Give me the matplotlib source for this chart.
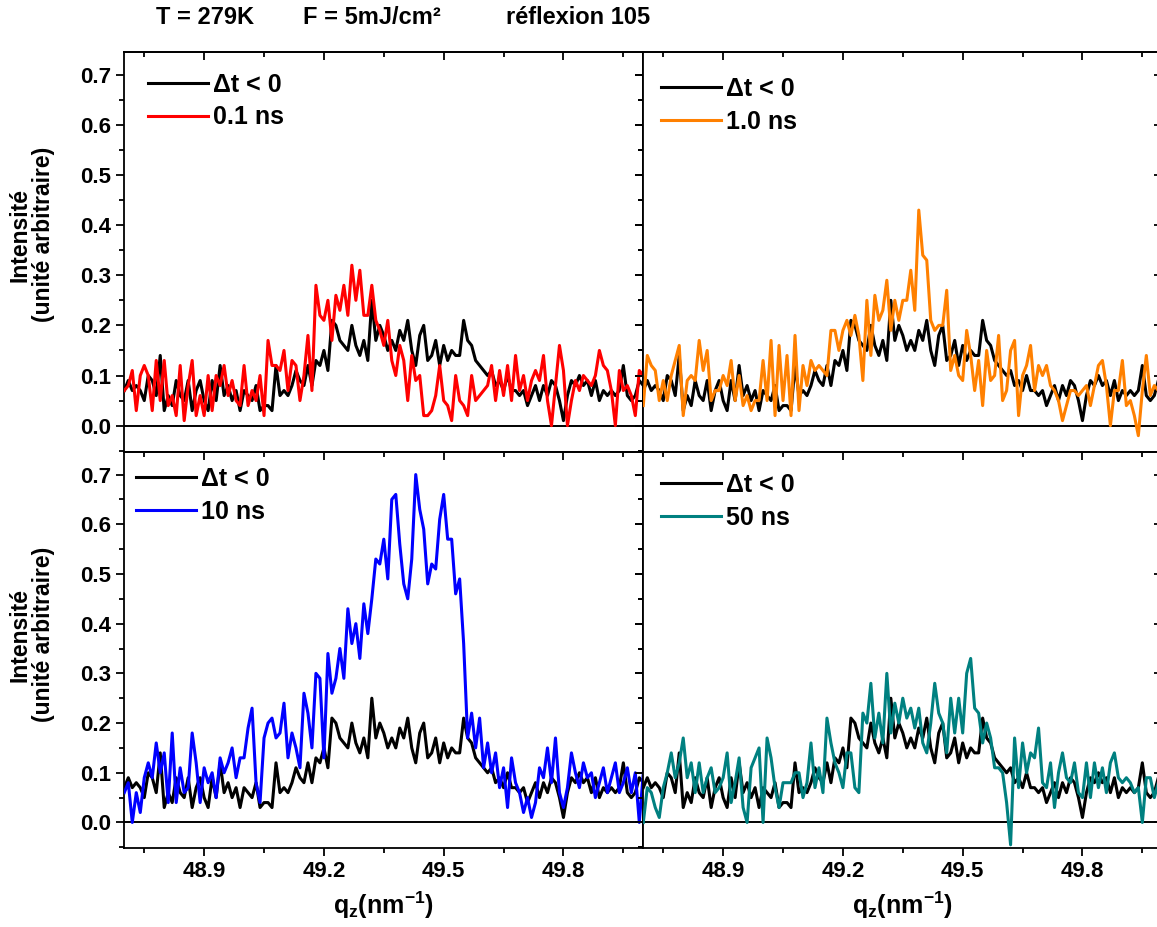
import numpy as np
import matplotlib.pyplot as plt
from matplotlib.ticker import MultipleLocator, FormatStrFormatter

plt.rcParams['font.family'] = ['Liberation Sans', 'DejaVu Sans']
plt.rcParams['font.weight'] = 'bold'
plt.rcParams['mathtext.fontset'] = 'custom'
plt.rcParams['mathtext.rm'] = 'Liberation Sans:bold'
plt.rcParams['mathtext.it'] = 'Liberation Sans:bold'
plt.rcParams['mathtext.bf'] = 'Liberation Sans:bold'
plt.rcParams['mathtext.default'] = 'rm'

# scan positions q_z (nm^-1), step 0.01
q = np.round(np.arange(131) * 0.01 + 48.70, 2)

# reference, delta t < 0 (same curve in all four panels)
i_ref = [0.07, 0.09, 0.07, 0.08, 0.07, 0.05, 0.10, 0.09, 0.06, 0.14,
         0.03, 0.06, 0.04, 0.09, 0.06, 0.05, 0.09, 0.03, 0.07, 0.09,
         0.05, 0.03, 0.09, 0.05, 0.12, 0.06, 0.08, 0.05, 0.07, 0.03,
         0.07, 0.06, 0.05, 0.08, 0.03, 0.04, 0.04, 0.03, 0.12, 0.06,
         0.07, 0.06, 0.08, 0.11, 0.09, 0.08, 0.12, 0.08, 0.13, 0.12,
         0.15, 0.11, 0.21, 0.20, 0.17, 0.16, 0.15, 0.20, 0.16, 0.14,
         0.17, 0.13, 0.25, 0.17, 0.20, 0.18, 0.15, 0.17, 0.15, 0.19,
         0.17, 0.21, 0.15, 0.12, 0.18, 0.20, 0.13, 0.14, 0.17, 0.12,
         0.16, 0.13, 0.15, 0.14, 0.14, 0.21, 0.17, 0.16, 0.13, 0.12,
         0.11, 0.10, 0.11, 0.08, 0.09, 0.07, 0.10, 0.07, 0.07, 0.06,
         0.07, 0.04, 0.06, 0.08, 0.05, 0.08, 0.06, 0.09, 0.08, 0.05,
         0.01, 0.06, 0.09, 0.08, 0.10, 0.08, 0.09, 0.06, 0.09, 0.05,
         0.07, 0.06, 0.07, 0.06, 0.07, 0.12, 0.06, 0.05, 0.06, 0.09, 0.08]

# 0.1 ns
i_01 = [0.07, 0.08, 0.11, 0.03, 0.10, 0.12, 0.10, 0.03, 0.13, 0.05,
        0.13, 0.04, 0.06, 0.02, 0.12, 0.01, 0.08, 0.13, 0.02, 0.06,
        0.02, 0.10, 0.03, 0.10, 0.08, 0.12, 0.06, 0.09, 0.05, 0.04,
        0.12, 0.04, 0.07, 0.05, 0.10, 0.02, 0.17, 0.12, 0.12, 0.11,
        0.15, 0.07, 0.13, 0.12, 0.05, 0.10, 0.18, 0.07, 0.28, 0.22,
        0.21, 0.25, 0.17, 0.26, 0.23, 0.28, 0.22, 0.32, 0.25, 0.31,
        0.22, 0.22, 0.28, 0.21, 0.19, 0.16, 0.21, 0.13, 0.10, 0.16,
        0.13, 0.05, 0.14, 0.09, 0.10, 0.02, 0.02, 0.03, 0.06, 0.12,
        0.05, 0.04, 0.01, 0.10, 0.05, 0.04, 0.02, 0.10, 0.05, 0.06,
        0.07, 0.08, 0.12, 0.05, 0.11, 0.06, 0.12, 0.05, 0.14, 0.07,
        0.10, 0.05, 0.09, 0.11, 0.09, 0.14, 0.05, 0.00, 0.08, 0.16,
        0.11, 0.00, 0.05, 0.09, 0.07, 0.10, 0.09, 0.08, 0.10, 0.15,
        0.12, 0.11, 0.07, 0.00, 0.11, 0.07, 0.08, 0.06, 0.02, 0.11, 0.10]

# 1.0 ns
i_1 = [0.04, 0.14, 0.12, 0.11, 0.05, 0.09, 0.05, 0.10, 0.13, 0.16,
       0.02, 0.09, 0.10, 0.09, 0.17, 0.11, 0.15, 0.05, 0.07, 0.07,
       0.10, 0.08, 0.13, 0.05, 0.10, 0.04, 0.06, 0.03, 0.05, 0.05,
       0.13, 0.05, 0.17, 0.02, 0.16, 0.05, 0.14, 0.02, 0.18, 0.03,
       0.12, 0.08, 0.13, 0.11, 0.12, 0.11, 0.10, 0.19, 0.19, 0.15,
       0.19, 0.21, 0.18, 0.22, 0.18, 0.09, 0.25, 0.14, 0.26, 0.21,
       0.23, 0.29, 0.19, 0.25, 0.21, 0.25, 0.25, 0.31, 0.23, 0.43,
       0.34, 0.33, 0.21, 0.19, 0.20, 0.20, 0.27, 0.11, 0.14, 0.10,
       0.09, 0.19, 0.14, 0.07, 0.13, 0.04, 0.15, 0.09, 0.10, 0.18,
       0.05, 0.07, 0.15, 0.17, 0.02, 0.10, 0.12, 0.16, 0.07, 0.12,
       0.10, 0.12, 0.08, 0.07, 0.05, 0.01, 0.04, 0.07, 0.07, 0.06,
       0.07, 0.08, 0.04, 0.08, 0.12, 0.13, 0.08, 0.00, 0.07, 0.07,
       0.13, 0.04, 0.05, 0.02, -0.02, 0.07, 0.14, 0.06, 0.08, 0.07, 0.08]

# 10 ns
i_10 = [0.06, 0.08, 0.00, 0.06, 0.02, 0.09, 0.12, 0.09, 0.16, 0.10,
        0.14, 0.04, 0.18, 0.04, 0.11, 0.06, 0.07, 0.18, 0.12, 0.04,
        0.11, 0.08, 0.10, 0.05, 0.13, 0.10, 0.12, 0.15, 0.09, 0.13,
        0.13, 0.19, 0.23, 0.08, 0.04, 0.17, 0.20, 0.21, 0.17, 0.18,
        0.24, 0.13, 0.18, 0.15, 0.11, 0.26, 0.22, 0.15, 0.30, 0.29,
        0.13, 0.34, 0.26, 0.29, 0.35, 0.29, 0.43, 0.36, 0.40, 0.33,
        0.44, 0.38, 0.45, 0.53, 0.52, 0.57, 0.49, 0.65, 0.66, 0.56,
        0.48, 0.45, 0.53, 0.70, 0.63, 0.59, 0.48, 0.52, 0.51, 0.61,
        0.66, 0.57, 0.57, 0.46, 0.49, 0.36, 0.17, 0.22, 0.15, 0.21,
        0.11, 0.16, 0.10, 0.14, 0.07, 0.11, 0.03, 0.13, 0.08, 0.06,
        0.02, 0.05, 0.01, 0.04, 0.11, 0.09, 0.15, 0.08, 0.17, 0.06,
        0.03, 0.07, 0.14, 0.10, 0.07, 0.12, 0.09, 0.10, 0.05, 0.08,
        0.11, 0.06, 0.09, 0.12, 0.06, 0.08, 0.11, 0.06, 0.10, 0.00, 0.10]

# 50 ns
i_50 = [0.00, 0.07, 0.06, 0.03, 0.01, 0.07, 0.10, 0.14, 0.09, 0.12,
        0.17, 0.09, 0.12, 0.06, 0.12, 0.06, 0.09, 0.11, 0.06, 0.07,
        0.09, 0.14, 0.04, 0.08, 0.13, 0.03, 0.00, 0.11, 0.13, 0.15,
        0.00, 0.17, 0.13, 0.07, 0.03, 0.08, 0.08, 0.08, 0.10, 0.10,
        0.05, 0.08, 0.16, 0.07, 0.11, 0.06, 0.21, 0.16, 0.12, 0.10,
        0.07, 0.14, 0.14, 0.07, 0.06, 0.22, 0.20, 0.28, 0.17, 0.22,
        0.16, 0.30, 0.18, 0.24, 0.20, 0.25, 0.21, 0.23, 0.19, 0.23,
        0.16, 0.14, 0.20, 0.28, 0.22, 0.20, 0.14, 0.25, 0.18, 0.25,
        0.18, 0.30, 0.33, 0.23, 0.22, 0.16, 0.20, 0.17, 0.11, 0.11,
        0.10, 0.04, -0.045, 0.17, 0.07, 0.16, 0.10, 0.14, 0.13, 0.19,
        0.08, 0.07, 0.12, 0.03, 0.10, 0.14, 0.09, 0.08, 0.12, 0.06,
        0.05, 0.12, 0.05, 0.12, 0.07, 0.11, 0.06, 0.12, 0.14, 0.09,
        0.08, 0.09, 0.08, 0.06, 0.07, 0.00, 0.09, 0.09, 0.05, 0.08, 0.07]

panels = [(i_01, '#ff0000', '0.1 ns'), (i_1, '#ff8000', '1.0 ns'),
          (i_10, '#0000ff', '10 ns'), (i_50, '#008080', '50 ns')]

W, H = 1157.0, 927.0
fig = plt.figure(figsize=(W / 100, H / 100), dpi=100)

lefts = [124.3, 643.3]
rows = [(51.7, 451.7), (451.7, 848.3)]
leg_anchor = [(0.045, 0.948), (0.035, 0.937), (0.022, 0.962), (0.035, 0.946)]

for k, (vals, col, lab) in enumerate(panels):
    r, c = divmod(k, 2)
    top, bot = rows[r]
    ax = fig.add_axes([lefts[c] / W, 1 - bot / H, 519 / W, (bot - top) / H])
    ax.axhline(0, color='k', lw=1.4, zorder=1)
    ax.plot(q, i_ref, color='k', lw=2.2, label='Δt < 0', zorder=2)
    ax.plot(q, vals, color=col, lw=2.2, label=lab, zorder=3)
    ax.set_xlim(48.70, 50.0)
    ax.set_ylim(-0.052, 0.746)

    ax.xaxis.set_major_locator(MultipleLocator(0.3))
    ax.xaxis.set_minor_locator(MultipleLocator(0.15))
    ax.yaxis.set_major_locator(MultipleLocator(0.1))
    ax.yaxis.set_minor_locator(MultipleLocator(0.05))
    ax.yaxis.set_major_formatter(FormatStrFormatter('%.1f'))
    ax.tick_params(which='both', direction='out', width=1.3, labelsize=16)
    ax.tick_params(which='major', length=6)
    ax.tick_params(which='minor', length=3.5)
    ax.tick_params(labelleft=(c == 0), labelbottom=(r == 1))
    for s in ax.spines.values():
        s.set_linewidth(1.3)

    sx = ax.secondary_xaxis('top')
    sx.xaxis.set_major_locator(MultipleLocator(0.3))
    sx.xaxis.set_minor_locator(MultipleLocator(0.15))
    sx.tick_params(which='both', direction='in', width=1.3, labeltop=False)
    sx.tick_params(which='major', length=6)
    sx.tick_params(which='minor', length=3.5)
    sy = ax.secondary_yaxis('right')
    sy.yaxis.set_major_locator(MultipleLocator(0.1))
    sy.yaxis.set_minor_locator(MultipleLocator(0.05))
    sy.tick_params(which='both', direction='in', width=1.3, labelright=False)
    sy.tick_params(which='major', length=6)
    sy.tick_params(which='minor', length=3.5)
    for s in list(sx.spines.values()) + list(sy.spines.values()):
        s.set_linewidth(1.3)

    ax.legend(loc='upper left', bbox_to_anchor=leg_anchor[k], frameon=False,
              fontsize=18, handlelength=2.4, handletextpad=0.2,
              labelspacing=0.35, borderpad=0, borderaxespad=0)

    if c == 0:
        fig.text(32 / W, 1 - (top + 183) / H, 'Intensité\n(unité arbitraire)',
                 rotation=90, ha='center', va='center', fontsize=16.5,
                 multialignment='center', linespacing=1.0)
    if r == 1:
        fig.text((lefts[c] + 259.5) / W, 1 - 905 / H,
                 r'q$_{z}$(nm$^{-1}$)', ha='center', va='center', fontsize=18)

fig.text(156 / W, 1 - 18 / H, 'T = 279K', ha='left', va='center', fontsize=17)
fig.text(303 / W, 1 - 18 / H, 'F = 5mJ/cm²', ha='left', va='center', fontsize=17)
fig.text(506 / W, 1 - 18 / H, 'réflexion 105', ha='left', va='center', fontsize=17)

fig.savefig('out.png', dpi=100)
